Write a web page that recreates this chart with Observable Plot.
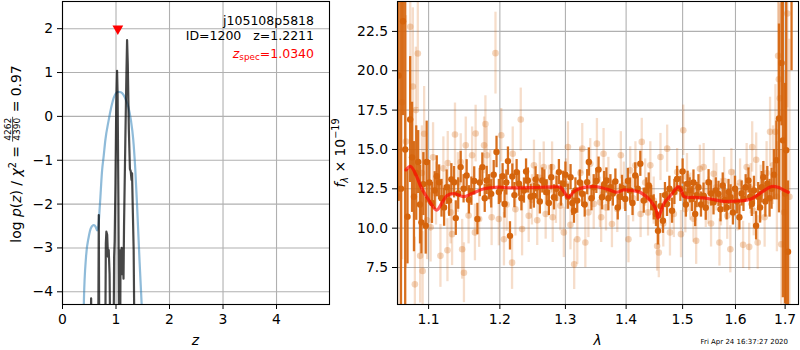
<!DOCTYPE html>
<html><head><meta charset="utf-8">
<script src="https://cdn.jsdelivr.net/npm/d3@7"></script>
<script src="https://cdn.jsdelivr.net/npm/@observablehq/plot@0.6"></script>
<style>
body{margin:0;background:#fff;}
#wrap{position:relative;width:800px;height:350px;font-family:"DejaVu Sans",sans-serif;}
#wrap > svg{position:absolute;top:0;}
</style></head><body><div id="wrap"></div>
<script>
// ---------- left panel data: log p(z) ----------
const zTicks = [0, 1, 2, 3, 4];
const logpTicks = [-4, -3, -2, -1, 0, 1, 2];
const zBlue  = [0.38,0.40,0.44,0.49,0.53,0.584,0.62,0.646,0.67,0.70,0.74,0.77,0.80,0.864,0.91,0.957,1.00,1.045,1.09,1.14,1.19,1.23,1.28,1.32,1.36,1.40,1.44,1.48,1.52];
const lpBlue = [-6,-4.2,-3.2,-2.75,-2.55,-2.48,-2.52,-2.6,-2.5,-2.0,-1.23,-0.9,-0.55,-0.08,0.2,0.42,0.53,0.56,0.55,0.49,0.36,0.22,-0.1,-0.5,-1.2,-2.2,-3.3,-4.3,-5.2];
const zBlack  = [0.52,0.535,0.55,0.665,0.678,0.69,0.795,0.81,0.82,0.835,0.85,0.864,0.88,0.90,0.95,0.965,0.975,0.99,1.005,1.02,1.03,1.045,1.06,1.075,1.085,1.095,1.105,1.115,1.13,1.14,1.15,1.175,1.195,1.207,1.22,1.24,1.26,1.275,1.29,1.30,1.315,1.33,1.34,1.35];
const lpBlack = [-6,-4.15,-6,-6,-2.25,-6,-6,-2.9,-2.63,-2.7,-3.2,-3.05,-3.6,-6,-6,-3.2,-2.85,-1.5,0.3,1.04,0.5,-2.0,-6,-6,-3.05,-3.4,-3.0,-3.6,-3.2,-3.7,-2.5,-0.5,1.0,1.74,1.2,-0.3,-1.2,-1.25,-1.45,-1.3,-2.2,-3.05,-4.5,-6];
const zSpec = [1.034];
const zSpecY = [2];

// ---------- right panel data: spectrum ----------
const lamTicks = [1.1, 1.2, 1.3, 1.4, 1.5, 1.6, 1.7];
const fluxTicks = [7.5, 10, 12.5, 15, 17.5, 20, 22.5];
const darkLam = [1.0605,1.0635,1.0662,1.0690,1.0720,1.0755,1.0780,1.0805,1.0835,1.0861,1.0885,1.0904,1.0930,1.0961,1.0974,1.1010,1.1045,1.1082,1.1110,1.1142,1.1175,1.1210,1.1245,1.1279,1.1310,1.1348,1.1371,1.1405,1.1439,1.1480,1.1523,1.1555,1.1590,1.1630,1.1675,1.1710,1.1746,1.1780,1.1808,1.1840,1.1874,1.1910,1.1951,1.1985,1.2010,1.2040,1.2069,1.2095,1.2119,1.2149,1.2184,1.2215,1.2248,1.2283,1.2320,1.2358,1.2390,1.2417,1.2460,1.2509,1.2535,1.2561,1.2600,1.2638,1.2670,1.2706,1.2740,1.2778,1.2820,1.2860,1.2897,1.2930,1.2965,1.3000,1.3040,1.3082,1.3110,1.3136,1.3160,1.3189,1.3230,1.3269,1.3310,1.3350,1.3377,1.3420,1.3457,1.3500,1.3537,1.3594,1.3630,1.3667,1.3700,1.3734,1.3775,1.3818,1.3858,1.3895,1.3930,1.3986,1.4030,1.4069,1.4110,1.4157,1.4200,1.4245,1.4304,1.4350,1.4392,1.4435,1.4480,1.4520,1.4556,1.4600,1.4644,1.4680,1.4717,1.4760,1.4808,1.4850,1.4899,1.4959,1.5000,1.5032,1.5060,1.5092,1.5130,1.5171,1.5200,1.5232,1.5260,1.5293,1.5340,1.5388,1.5430,1.5483,1.5530,1.5577,1.5620,1.5672,1.5710,1.5753,1.5790,1.5829,1.5865,1.5905,1.5950,1.5991,1.6030,1.6077,1.6120,1.6157,1.6200,1.6256,1.6290,1.6322,1.6365,1.6408,1.6450,1.6488,1.6520,1.6554,1.6595,1.6634,1.6680,1.6721,1.6770,1.6820,1.6873,1.6926,1.6953,1.7000,1.7023,1.7060,1.7134];
const darkFlux = [19.7,12.5,23.15,15.0,10.73,16.9,14.5,12.0,13.5,14.2,11.5,10.37,12.8,10.15,14.2,12.9,11.6,12.39,13.3,12.92,11.9,11.32,12.6,11.75,13.1,12.92,10.64,12.2,13.88,12.5,13.35,11.8,12.35,13.0,10.58,12.9,13.88,11.9,13.03,12.6,12.18,13.4,14.84,12.3,12.5,13.3,11.54,12.9,14.26,9.51,13.28,12.1,13.56,12.82,11.9,12.39,13.6,13.03,12.0,12.07,13.1,12.6,11.7,13.03,12.9,12.28,11.6,13.24,11.96,12.5,13.56,12.2,12.82,13.4,12.0,13.24,11.6,11.11,12.4,11.75,12.9,12.18,11.5,12.92,14.2,11.9,12.6,13.0,13.72,11.96,12.8,13.03,11.9,12.6,12.2,12.96,11.32,12.0,12.56,11.86,13.0,12.39,11.6,13.35,12.5,14.09,11.75,12.4,12.71,11.9,11.32,10.9,9.83,11.4,10.47,12.1,11.54,12.5,11.11,12.3,13.13,12.5,13.6,12.13,11.5,12.82,12.4,11.86,12.9,10.9,12.1,12.6,11.5,12.07,11.3,12.92,12.2,11.64,12.4,12.18,11.2,12.71,11.8,11.32,12.3,11.96,11.0,12.5,11.7,10.69,12.2,11.86,12.6,13.03,12.0,11.54,12.4,10.15,12.0,11.32,12.6,13.24,11.7,12.82,11.9,12.5,13.4,14.31,16.97,20.5,15.58,12.2,14.95,8.5,26];
const darkErr = [8,12,6,10,3,4,3.5,3.5,3,2,2.5,2,2,1.8,2.6,1.4,1.3,1.2,1.3,1.1,1.2,1.2,1.1,1.0,1.0,1.0,1.1,1.0,1.0,0.9,1.0,0.9,0.9,0.9,1.0,0.9,0.9,0.9,0.9,0.8,0.9,0.9,1.0,0.8,0.9,0.8,0.9,0.8,0.9,0.9,0.8,0.8,0.8,0.8,0.8,0.8,0.8,0.8,0.8,0.8,0.8,0.8,0.8,0.8,0.8,0.8,0.8,0.8,0.8,0.8,0.8,0.8,0.8,0.8,0.8,0.8,0.8,0.8,0.8,0.8,0.8,0.8,0.8,0.8,0.9,0.8,0.8,0.8,0.8,0.8,0.8,0.8,0.8,0.8,0.8,0.8,0.8,0.8,0.8,0.8,0.8,0.8,0.8,0.8,0.8,0.8,0.8,0.8,0.8,0.8,0.8,0.8,0.9,0.8,0.8,0.8,0.8,0.8,0.8,0.8,0.8,0.8,0.8,0.8,0.8,0.8,0.8,0.8,0.8,0.8,0.8,0.8,0.8,0.8,0.8,0.8,0.8,0.8,0.8,0.8,0.8,0.8,0.8,0.8,0.8,0.8,0.8,0.8,0.8,0.8,0.8,0.8,0.8,0.8,0.8,0.8,0.9,0.9,0.9,1.0,1.0,1.0,1.0,1.1,1.2,1.3,1.6,2.5,6,4,10,7,12,4.5,6];
const lightLam = [1.0600,1.0650,1.0700,1.0756,1.0790,1.0817,1.0830,1.0856,1.0887,1.0910,1.0920,1.0940,1.0980,1.1027,1.1060,1.1100,1.1160,1.1200,1.1256,1.1260,1.1300,1.1320,1.1360,1.1400,1.1440,1.1460,1.1485,1.1510,1.1550,1.1600,1.1640,1.1650,1.1700,1.1771,1.1790,1.1810,1.1860,1.1880,1.1936,1.1985,1.2020,1.2060,1.2100,1.2180,1.2190,1.2230,1.2310,1.2330,1.2430,1.2480,1.2510,1.2560,1.2600,1.2660,1.2690,1.2740,1.2790,1.2800,1.2850,1.2920,1.2975,1.3010,1.3040,1.3080,1.3140,1.3190,1.3240,1.3270,1.3320,1.3370,1.3400,1.3457,1.3510,1.3560,1.3580,1.3620,1.3660,1.3700,1.3760,1.3850,1.3910,1.3960,1.4040,1.4070,1.4120,1.4160,1.4250,1.4270,1.4330,1.4380,1.4420,1.4480,1.4540,1.4570,1.4600,1.4650,1.4720,1.4770,1.4840,1.4900,1.4970,1.5012,1.5050,1.5080,1.5140,1.5200,1.5250,1.5320,1.5390,1.5430,1.5480,1.5530,1.5580,1.5630,1.5690,1.5720,1.5780,1.5840,1.5900,1.5920,1.5970,1.6040,1.6090,1.6150,1.6220,1.6270,1.6300,1.6330,1.6360,1.6410,1.6440,1.6500,1.6580,1.6620,1.6690,1.6750,1.6800,1.6830,1.6855,1.6870,1.6890,1.6920,1.6980,1.7046,1.7090];
const lightFlux = [12.0,18.0,15.5,22.8,19.0,6.43,17.5,21.1,8.24,13.5,7.28,16.0,10.5,10.05,14.5,12.2,8.24,13.8,8.6,14.14,11.0,9.62,15.95,12.9,14.2,8.66,7.17,15.26,10.8,14.63,9.73,16.01,10.58,15.26,16.61,14.63,13.24,10.69,21.12,10.58,15.9,9.3,11.5,7.81,14.73,11.2,16.9,9.94,10.79,11.8,13.99,10.5,13.2,13.88,10.9,12.4,13.88,10.69,11.9,11.43,9.73,12.8,15.16,10.22,7.7,9.3,13.5,15.05,9.09,11.0,14.09,11.54,15.37,11.64,10.69,14.73,11.32,13.0,10.26,11.22,14.63,12.7,9.3,13.67,11.9,13.99,10.9,15.48,12.9,11.0,13.99,11.75,8.87,8.45,14.52,10.3,15.05,9.73,10.9,13.56,9.62,16.22,11.2,13.24,12.0,10.6,9.2,13.77,13.88,11.54,11.75,10.3,13.45,12.6,9.09,11.64,13.0,10.79,8.66,13.56,12.2,11.32,12.9,8.94,13.88,8.81,12.5,15.16,11.11,14.35,9.09,12.2,10.69,13.5,16.12,14.0,16.12,12.0,20.95,19.46,18.25,8.98,11.0,23.64,12.0];
const lightErr = [14,10,8,5,5,3,4,3.5,3,3,2.5,3,2.5,2.2,2.2,2,2,2,2,2,2,2,2,1.9,1.8,1.9,1.9,1.8,1.8,1.8,1.8,1.8,1.8,1.8,1.8,1.8,1.7,1.8,2.6,1.7,1.7,1.7,1.7,1.7,1.7,1.7,2.0,1.7,1.7,1.6,1.6,1.6,1.6,1.6,1.6,1.6,1.6,1.6,1.6,1.6,1.6,1.6,1.6,1.6,1.6,1.6,1.6,1.6,1.6,1.6,1.6,1.6,1.6,1.6,1.6,1.6,1.5,1.5,1.5,1.5,1.5,1.5,1.5,1.5,1.5,1.5,1.5,1.5,1.5,1.5,1.5,1.5,1.6,1.6,1.5,1.5,1.5,1.5,1.5,1.5,1.5,1.6,1.5,1.5,1.5,1.5,1.5,1.5,1.5,1.5,1.5,1.5,1.5,1.5,1.5,1.5,1.5,1.5,1.5,1.5,1.5,1.5,1.5,1.5,1.5,1.5,1.6,1.6,1.6,1.7,1.7,1.8,1.9,2,2.2,2.5,3,3.5,4,5,6,6,9,6,10];
const modelLam  = [1.070,1.076,1.083,1.090,1.100,1.111,1.118,1.125,1.135,1.148,1.160,1.177,1.195,1.216,1.250,1.280,1.292,1.298,1.305,1.313,1.322,1.335,1.351,1.370,1.384,1.396,1.410,1.424,1.442,1.452,1.4555,1.460,1.4656,1.4805,1.4926,1.4975,1.5028,1.520,1.539,1.560,1.577,1.600,1.616,1.630,1.642,1.660,1.672,1.685,1.695,1.7067];
const modelFlux = [13.7,13.92,13.4,12.6,11.8,11.15,11.6,12.07,12.2,12.0,12.2,12.5,12.6,12.56,12.58,12.62,12.6,12.3,11.96,12.3,12.5,12.62,12.63,12.45,12.28,12.43,12.4,12.28,11.75,11.2,10.64,11.0,11.53,12.17,12.64,12.4,12.0,11.95,11.92,11.8,11.7,11.72,11.75,11.85,12.07,12.45,12.64,12.6,12.45,12.28];

// ---------- build tables ----------
const blue = zBlue.map((z, i) => ({z, lp: lpBlue[i]}));
const black = zBlack.map((z, i) => ({z, lp: lpBlack[i]}));
const spec = zSpec.map((z, i) => ({z, lp: zSpecY[i]}));
const dark = darkLam.map((lam, i) => ({lam, f: darkFlux[i], e: darkErr[i]}));
const light = lightLam.map((lam, i) => ({lam, f: lightFlux[i], e: lightErr[i]}));
const model = modelLam.map((lam, i) => ({lam, f: modelFlux[i]}));

const FONT = "DejaVu Sans";
const ORANGE = "#d5640c";
const NB = "\u00a0";
const minusFmt = d => d < 0 ? "\u2212" + (-d) : String(d);
const wrap = document.getElementById("wrap");

const left = Plot.plot({
  width: 340, height: 350,
  marginLeft: 62, marginRight: 11, marginTop: 1, marginBottom: 46,
  style: {fontFamily: FONT, fontSize: "13.9px", color: "black", background: "transparent", overflow: "visible"},
  x: {domain: [0, 4.99]},
  y: {domain: [-4.29, 2.62]},
  marks: [
    Plot.gridX(zTicks, {stroke: "#b0b0b0", strokeOpacity: 1, strokeWidth: 1.1}),
    Plot.gridY(logpTicks, {stroke: "#b0b0b0", strokeOpacity: 1, strokeWidth: 1.1}),
    Plot.line(blue, {x: "z", y: "lp", stroke: "#1f77b4", strokeOpacity: 0.5, strokeWidth: 2.2, curve: "monotone-x", clip: true}),
    Plot.line(black, {x: "z", y: "lp", stroke: "black", strokeOpacity: 0.72, strokeWidth: 2.2, clip: true}),
    Plot.dot(spec, {x: "z", y: "lp", symbol: "triangle", rotate: 180, fill: "red", stroke: "none", r: 4}),
    Plot.axisX({ticks: zTicks, tickSize: 5, tickPadding: 4.5, label: null, tickFormat: minusFmt}),
    Plot.axisY({ticks: logpTicks, tickSize: 5, tickPadding: 4.5, label: null, tickFormat: minusFmt}),
    Plot.frame({stroke: "black", strokeWidth: 1.1})
  ]
});
left.style.left = "0px";
wrap.appendChild(left);

const right = Plot.plot({
  width: 460, height: 350,
  marginLeft: 57, marginRight: 2, marginTop: 1, marginBottom: 46,
  style: {fontFamily: FONT, fontSize: "13.9px", color: "black", background: "transparent", overflow: "visible"},
  x: {type: "log", domain: [1.059, 1.728]},
  y: {domain: [5.15, 24.4]},
  marks: [
    Plot.gridX(lamTicks, {stroke: "#b0b0b0", strokeOpacity: 1, strokeWidth: 1.1}),
    Plot.gridY(fluxTicks, {stroke: "#b0b0b0", strokeOpacity: 1, strokeWidth: 1.1}),
    Plot.ruleX(light, {x: "lam", y1: d => d.f - d.e, y2: d => d.f + d.e, stroke: ORANGE, strokeOpacity: 0.22, strokeWidth: 2.3, clip: true}),
    Plot.dot(light, {x: "lam", y: "f", fill: ORANGE, fillOpacity: 0.28, stroke: "none", r: 3.3, clip: true}),
    Plot.ruleX(dark, {x: "lam", y1: d => d.f - d.e, y2: d => d.f + d.e, stroke: ORANGE, strokeOpacity: 0.92, strokeWidth: 2.3, clip: true}),
    Plot.dot(dark, {x: "lam", y: "f", fill: ORANGE, stroke: "none", r: 3.2, clip: true}),
    Plot.line(model, {x: "lam", y: "f", stroke: "red", strokeOpacity: 0.65, strokeWidth: 3.2, curve: "catmull-rom", clip: true}),
    Plot.axisX({ticks: lamTicks, tickSize: 5, tickPadding: 4.5, label: null, tickFormat: d => d.toFixed(1)}),
    Plot.axisY({ticks: fluxTicks, tickSize: 5, tickPadding: 4.5, label: null, tickFormat: d => d.toFixed(1)}),
    Plot.frame({stroke: "black", strokeWidth: 1.1})
  ]
});
right.style.left = "340px";
wrap.appendChild(right);

// ---------- overlay texts ----------
const ov = d3.select(wrap).append("svg")
  .attr("width", 800).attr("height", 350)
  .style("left", "0px").style("top", "0px")
  .attr("font-family", FONT);

// left y label with fraction
const gL = ov.append("g").attr("transform", "translate(21,154) rotate(-90)");
const gLi = gL.append("g");
const tA = gLi.append("text").attr("font-size", 13.9).attr("x", 0).attr("y", 0);
tA.append("tspan").text("log" + NB);
tA.append("tspan").attr("font-style", "italic").text("p");
tA.append("tspan").text("(");
tA.append("tspan").attr("font-style", "italic").text("z");
tA.append("tspan").text(")" + NB + "/" + NB);
tA.append("tspan").attr("font-style", "italic").text("\u03c7");
tA.append("tspan").attr("font-size", 9.7).attr("dy", -5.5).text("2");
tA.append("tspan").attr("dy", 5.5).text(NB + "=" + NB);
const wA = tA.node().getComputedTextLength();
const fracNum = gLi.append("text").attr("font-size", 9).attr("text-anchor", "middle").attr("y", -9.8).text("4262");
const fw = fracNum.node().getComputedTextLength() + 2;
fracNum.attr("x", wA + fw / 2);
gLi.append("text").attr("font-size", 9).attr("text-anchor", "middle").attr("x", wA + fw / 2).attr("y", -1.2).text("4390");
gLi.append("line").attr("x1", wA).attr("x2", wA + fw).attr("y1", -8.4).attr("y2", -8.4).attr("stroke", "black").attr("stroke-width", 0.7);
const tB = gLi.append("text").attr("font-size", 13.9).attr("x", wA + fw).attr("y", 0).text(NB + "=" + NB + "0.97");
const W = wA + fw + tB.node().getComputedTextLength();
gLi.attr("transform", `translate(${-W / 2},0)`);

// right y label
const tR = ov.append("text").attr("font-size", 13.9).attr("text-anchor", "middle")
  .attr("transform", "translate(345,153) rotate(-90)");
tR.append("tspan").attr("font-style", "italic").text("f");
tR.append("tspan").attr("font-style", "italic").attr("font-size", 9.7).attr("dy", 3).text("\u03bb");
tR.append("tspan").attr("dy", -3).text(NB + "\u00d7" + NB + "10");
tR.append("tspan").attr("font-size", 9.7).attr("dy", -6).text("\u221219");

// x labels
ov.append("text").attr("x", 195.5).attr("y", 345).attr("font-size", 13.9).attr("font-style", "italic").attr("text-anchor", "middle").text("z");
ov.append("text").attr("x", 597.5).attr("y", 345).attr("font-size", 13.9).attr("font-style", "italic").attr("text-anchor", "middle").text("\u03bb");

// annotations
ov.append("text").attr("x", 314).attr("y", 25).attr("font-size", 12.5).attr("text-anchor", "end").text("j105108p5818");
ov.append("text").attr("x", 314).attr("y", 39.5).attr("font-size", 12.5).attr("text-anchor", "end").text("ID=1200" + NB + NB + NB + "z=1.2211");
const tz = ov.append("text").attr("x", 314).attr("y", 57.5).attr("font-size", 12.5).attr("text-anchor", "end").attr("fill", "red");
tz.append("tspan").attr("font-style", "italic").text("z");
tz.append("tspan").attr("font-size", 8.8).attr("dy", 2.8).text("spec");
tz.append("tspan").attr("dy", -2.8).text("=1.0340");

// timestamp
ov.append("text").attr("x", 788).attr("y", 344).attr("font-size", 7).attr("text-anchor", "end").text("Fri Apr 24 16:37:27 2020");
</script></body></html>
